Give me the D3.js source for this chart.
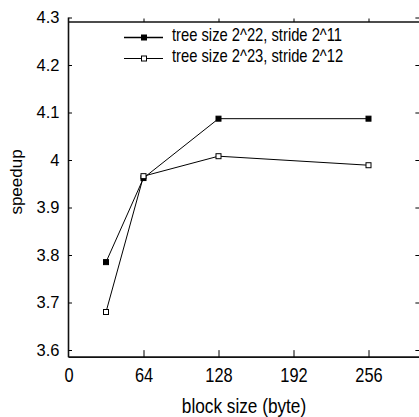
<!DOCTYPE html>
<html>
<head>
<meta charset="utf-8">
<script src="https://cdn.jsdelivr.net/npm/d3@7"></script>
<style>
  body { margin: 0; background: #fff; }
  svg { display: block; font-family: "Liberation Sans", Arial, sans-serif; }
</style>
</head>
<body>
<script>
const blockSizes = [32, 64, 128, 256];
const speedup22 = [3.785, 3.962, 4.087, 4.087];
const speedup23 = [3.680, 3.966, 4.008, 3.989];
const seriesNames = ['tree size 2^22, stride 2^11', 'tree size 2^23, stride 2^12'];
const xTicks = [0, 64, 128, 192, 256];
const yTicks = [3.6, 3.7, 3.8, 3.9, 4, 4.1, 4.2, 4.3];

const width = 419;
const height = 417;
const squeeze = 0.82; // the figure's text is condensed horizontally

const svg = d3.select('body').append('svg')
    .attr('width', width)
    .attr('height', height);

const x = d3.scaleLinear().domain([0, 256]).range([68.5, 368.5]);
const y = d3.scaleLinear().domain([3.6, 4.3]).range([350, 17.5]);

const xMax = 296, yLo = 3.585, yHi = 4.2905;

// frame: left, top, bottom (right edge runs off the page)
svg.append('line')
  .attr('x1', x(0)).attr('x2', x(0))
  .attr('y1', y(4.3)).attr('y2', y(yLo))
  .attr('stroke', '#111').attr('stroke-width', 1.6);
svg.append('line')
  .attr('x1', x(0)).attr('x2', width)
  .attr('y1', y(yHi)).attr('y2', y(yHi))
  .attr('stroke', '#111').attr('stroke-width', 1.6);
svg.append('line')
  .attr('x1', x(0)).attr('x2', width)
  .attr('y1', y(yLo)).attr('y2', y(yLo))
  .attr('stroke', '#111').attr('stroke-width', 1.6);

// bottom axis
const xAxis = svg.append('g')
  .attr('transform', `translate(0,${y(yLo)})`)
  .call(d3.axisBottom(x).tickValues(xTicks).tickSize(-7).tickPadding(10.5));
xAxis.select('.domain').remove();
xAxis.selectAll('.tick line').filter(d => d === 0).remove();
xAxis.selectAll('.tick text')
  .style('font-family', '"Liberation Sans", Arial, sans-serif')
  .style('font-size', '20px')
  .attr('fill', '#000')
  .attr('transform', `scale(${squeeze},1)`);

// top ticks
const xTop = svg.append('g')
  .attr('transform', `translate(0,${y(yHi)})`)
  .call(d3.axisTop(x).tickValues(xTicks.filter(d => d > 0)).tickSize(3.5).tickFormat(''));
xTop.select('.domain').remove();

// left axis
const yAxis = svg.append('g')
  .attr('transform', `translate(${x(0)},0)`)
  .call(d3.axisLeft(y).tickValues(yTicks).tickSize(-3.5).tickPadding(9).tickFormat(d3.format('')));
yAxis.select('.domain').remove();
yAxis.selectAll('.tick text')
  .style('font-family', '"Liberation Sans", Arial, sans-serif')
  .style('font-size', '16.5px')
  .attr('fill', '#000');

// right ticks
const yRight = svg.append('g')
  .attr('transform', `translate(${x(xMax) + 4},0)`)
  .call(d3.axisRight(y).tickValues(yTicks).tickSize(-4).tickFormat(''));
yRight.select('.domain').remove();

// axis titles
svg.append('g')
  .attr('transform', `translate(244,413) scale(${squeeze},1)`)
  .append('text')
  .attr('text-anchor', 'middle')
  .style('font-size', '21px')
  .text('block size (byte)');

svg.append('text')
  .attr('transform', 'translate(22,182) rotate(-90)')
  .attr('text-anchor', 'middle')
  .style('font-size', '17px')
  .text('speedup');

// series
const series = [
  {name: seriesNames[0], values: speedup22, filled: true},
  {name: seriesNames[1], values: speedup23, filled: false}
];

const line = d3.line()
  .x((d, i) => x(blockSizes[i]))
  .y(d => y(d));

const markSize = 5;

series.forEach(s => {
  svg.append('path')
    .datum(s.values)
    .attr('d', line)
    .attr('fill', 'none')
    .attr('stroke', '#000')
    .attr('stroke-width', 1);

  svg.append('g').selectAll('rect')
    .data(s.values)
    .enter().append('rect')
    .attr('x', (d, i) => x(blockSizes[i]) - markSize / 2)
    .attr('y', d => y(d) - markSize / 2)
    .attr('width', markSize)
    .attr('height', markSize)
    .attr('fill', s.filled ? '#000' : '#fff')
    .attr('stroke', '#000')
    .attr('stroke-width', 1);
});

// legend
const legend = svg.append('g').attr('transform', 'translate(124,37.5)');
series.forEach((s, i) => {
  const row = legend.append('g').attr('transform', `translate(0,${i * 21})`);
  row.append('line')
    .attr('x1', 0).attr('x2', 39)
    .attr('stroke', '#000').attr('stroke-width', i === 0 ? 1.6 : 1);
  row.append('rect')
    .attr('x', 20 - markSize / 2).attr('y', -markSize / 2)
    .attr('width', markSize).attr('height', markSize)
    .attr('fill', s.filled ? '#000' : '#fff')
    .attr('stroke', '#000').attr('stroke-width', 1);
  row.append('g')
    .attr('transform', `translate(48,3.5) scale(${squeeze},1)`)
    .append('text')
    .style('font-size', '18px')
    .text(s.name);
});
</script>
</body>
</html>
